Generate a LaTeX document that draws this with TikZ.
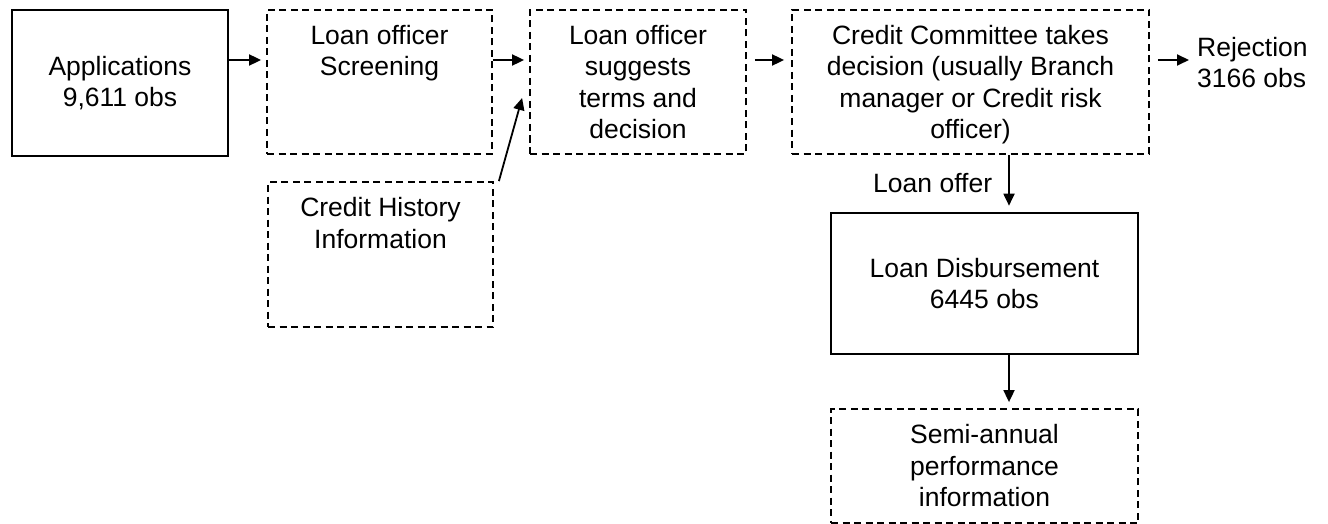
\documentclass[tikz,border=0pt]{standalone}
\usepackage{fontspec}
\setmainfont{Liberation Sans}
\usetikzlibrary{arrows.meta}
\begin{document}
\begin{tikzpicture}[x=1pt, y=-1pt, font=\fontsize{26.5}{31.5}\selectfont, >={Triangle[length=12pt,width=11pt]},
	solidbox/.style={draw, line width=2.6pt, align=center, inner sep=0pt},
	dashbox/.style={draw, line width=1.8pt, dash pattern=on 7pt off 4.5pt, align=center, inner sep=0pt},
	link/.style={->, line width=1.8pt}]
	\useasboundingbox (0,0) rectangle (1328,524);
	% top row
	\node[solidbox, minimum width=216pt, minimum height=146pt] (apps) at (120,83) {Applications\\9,611 obs};
	\node[dashbox, minimum width=225pt, minimum height=144pt] (screen) at (379.5,82) {Loan officer\\Screening\\\phantom{A}\\\phantom{A}};
	\node[dashbox, minimum width=216pt, minimum height=144pt] (suggest) at (638,82) {Loan officer\\suggests\\terms and\\decision};
	\node[dashbox, minimum width=357pt, minimum height=144pt, text depth=0pt] (commit) at (970.5,82) {Credit Committee takes\\decision (usually Branch\\manager or Credit risk\\officer)};
	\node[anchor=west, align=left, inner sep=0pt] (reject) at (1197,62.5) {Rejection\\3166 obs};
	% lower boxes
	\node[dashbox, minimum width=225pt, minimum height=145pt] (hist) at (380.5,254.5) {Credit History\\Information\\\phantom{A}\\\phantom{A}};
	\node[solidbox, minimum width=307pt, minimum height=141pt] (disb) at (984.5,283.5) {Loan Disbursement\\6445 obs};
	\node[dashbox, minimum width=307pt, minimum height=114pt] (semi) at (984.5,466) {Semi-annual\\performance\\information};
	% arrows
	\coordinate (row) at (0,60);
	\coordinate (drop) at (1009,0);
	\foreach \a/\b in {apps/screen, screen/suggest}{\draw[link, shorten >=5pt] (\a.east |- row) -- (\b.west |- row);}
	\draw[link, shorten <=8pt, shorten >=7pt] (suggest.east |- row) -- (commit.west |- row);
	\draw[link, shorten <=8pt, shorten >=8pt] (commit.east |- row) -- (reject.west |- row);
	\draw[link] ([xshift=5pt]hist.north east) -- ([xshift=-7pt,yshift=-16pt]suggest.west);
	\draw[link, shorten >=6pt] (commit.south -| drop) -- (disb.north -| drop) node (offer)[midway, left=16pt, inner sep=0pt]{Loan offer};
	\draw[link, shorten >=6pt] (disb.south -| drop) -- (semi.north -| drop);
\end{tikzpicture}
\end{document}
